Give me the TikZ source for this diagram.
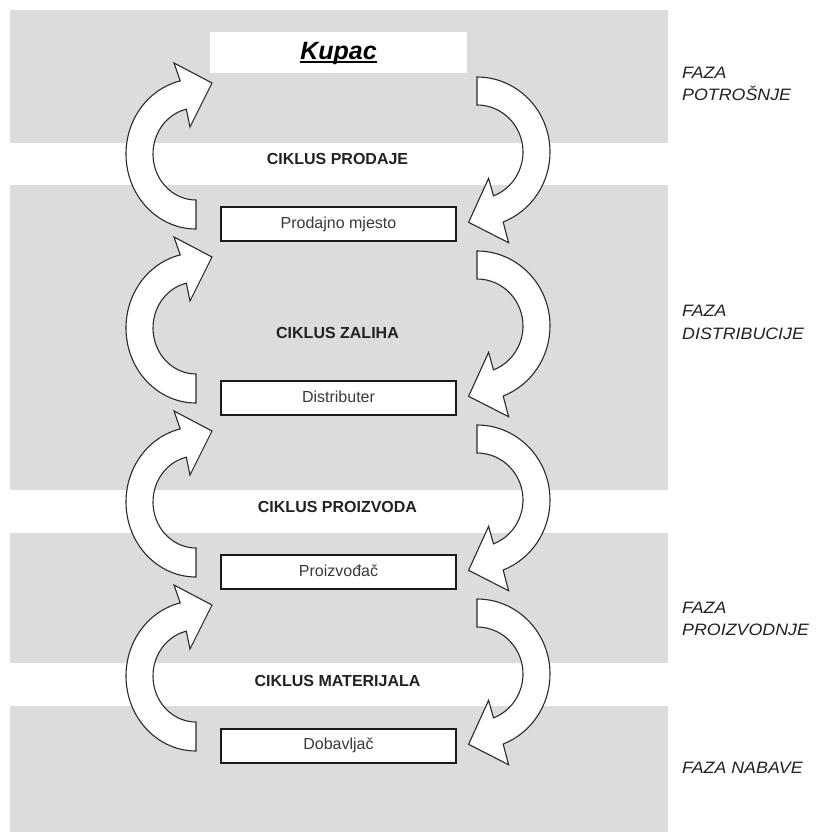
\documentclass[tikz,border=0pt]{standalone}
\usepackage{fontspec}
\setmainfont{Liberation Sans}
\newfontfamily\fazafont[FakeStretch=1.08]{Liberation Sans}
\definecolor{bandgrey}{HTML}{DCDCDC}
\definecolor{boxline}{HTML}{1A1A1A}
\definecolor{boxtext}{HTML}{3A3A3A}
\definecolor{arrowline}{HTML}{2A2A2A}
\definecolor{labeltext}{HTML}{222222}
\begin{document}
\begin{tikzpicture}[x=1pt,y=-1pt,
  band/.style={fill=bandgrey,draw=none},
  stagebox/.style={draw=boxline,line width=2pt,fill=white,minimum width=235pt,minimum height=34pt,
    inner sep=0pt,text=boxtext,text height=8pt,text depth=0pt,font=\fontsize{16}{19}\selectfont},
  cycletext/.style={anchor=base,inner sep=0pt,text=labeltext,font=\fontsize{16}{19}\selectfont\bfseries},
  phasetext/.style={anchor=base west,inner sep=0pt,text=labeltext,font=\fontsize{16.5}{20}\selectfont\fazafont\itshape},
  blockarrow/.style={fill=white,draw=arrowline,line width=1.1pt,line join=miter}
]
\useasboundingbox[fill=white] (0,0) rectangle (819,832);
% grey bands
\fill[band] (10,10) rectangle (668,143);
\fill[band] (10,185) rectangle (668,490);
\fill[band] (10,533) rectangle (668,663);
\fill[band] (10,706) rectangle (668,832);
% Kupac
\node[fill=white,minimum width=257pt,minimum height=41pt,inner sep=0pt] (kupacbox) at (338.5,52.5) {};
\node[anchor=base,inner sep=0pt,text=black,font=\fontsize{25}{30}\selectfont\bfseries\itshape] (kupac) at (338.5,59.5) {Kupac};
\draw[line width=1.6pt] ([yshift=-2.8pt]kupac.base west) -- ([yshift=-2.8pt]kupac.base east);
% centres of the block arrows
\foreach \k in {0,1,2,3}{
  \coordinate (L\k) at (196,{154+174*\k});
  \coordinate (R\k) at (477,{152+174*\k});
}
\foreach \k in {0,1,2,3}{
  \begin{scope}[shift={(L\k)}]
    \draw[blockarrow] (0,75) arc[start angle=90,end angle=257,x radius=70,y radius=75]
      -- (-22,-91) -- (16,-71) -- (-6,-27) -- (-9.67,-44.82)
      arc[start angle=257,end angle=90,x radius=43,y radius=46] -- cycle;
  \end{scope}
  \begin{scope}[shift={(R\k)}]
    \draw[blockarrow] (0,-75) arc[start angle=270,end angle=429,x radius=73,y radius=75]
      -- (31.6,90.7) -- (-8.4,70.3) -- (11.6,26.3) -- (16.48,43.88)
      arc[start angle=429,end angle=270,x radius=46,y radius=47] -- cycle;
  \end{scope}
}
% stage boxes
\node[stagebox] (prodajno) at (338.5,224) {Prodajno mjesto};
\node[stagebox] (distributer) at (338.5,398) {Distributer};
\node[stagebox] (proizvodac) at (338.5,572) {Proizvođač};
\node[stagebox] (dobavljac) at (338.5,745.5) {Dobavljač};
% cycle labels
\node[cycletext] (cprodaje) at (337.5,164) {CIKLUS PRODAJE};
\node[cycletext] (czaliha) at (337.5,338) {CIKLUS ZALIHA};
\node[cycletext] (cproizvoda) at (337.5,512) {CIKLUS PROIZVODA};
\node[cycletext] (cmaterijala) at (337.5,686) {CIKLUS MATERIJALA};
% phase labels
\node[phasetext] (f1a) at (682,78.5) {FAZA};
\node[phasetext] (f1b) at (682,100.7) {POTROŠNJE};
\node[phasetext] (f2a) at (682,316.7) {FAZA};
\node[phasetext] (f2b) at (682,339) {DISTRIBUCIJE};
\node[phasetext] (f3a) at (682,613) {FAZA};
\node[phasetext] (f3b) at (682,635) {PROIZVODNJE};
\node[phasetext] (f4) at (682,773) {FAZA NABAVE};
\end{tikzpicture}
\end{document}
